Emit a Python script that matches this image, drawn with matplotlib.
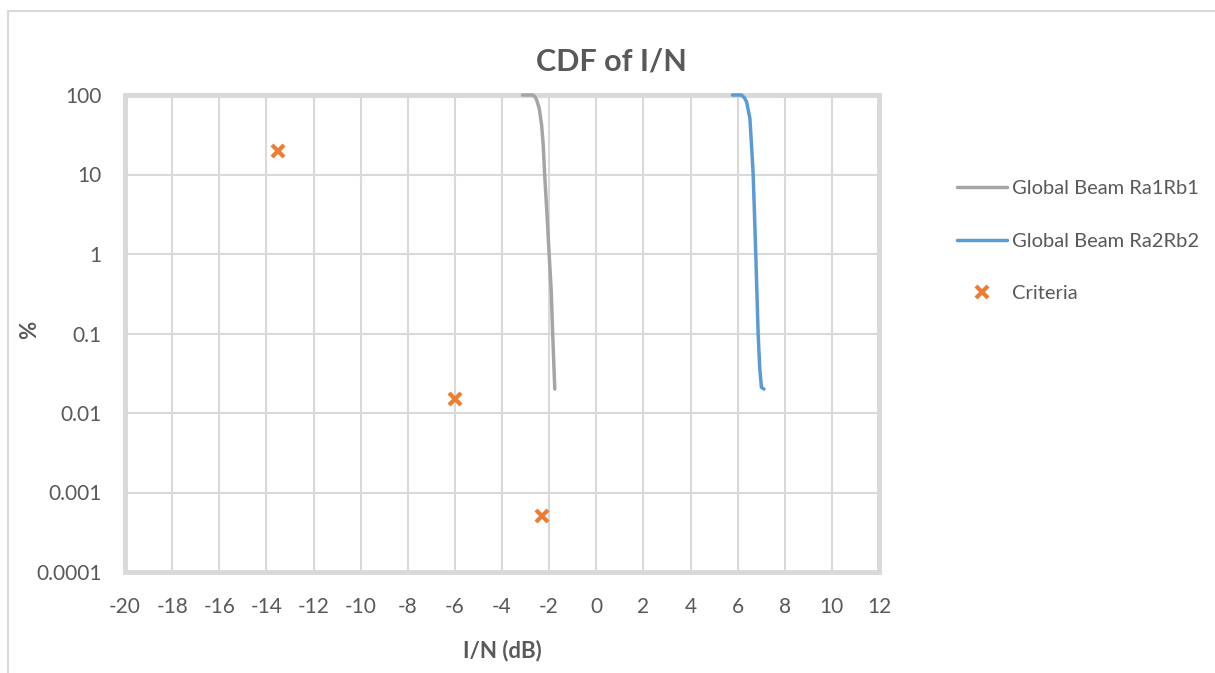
import numpy as np
import matplotlib.pyplot as plt
from matplotlib.patches import Rectangle

plt.rcParams.update({
    'font.family': ['Lato', 'DejaVu Sans'],
    'font.size': 13,
})

# CDF of I/N (dB) vs percentage
ra1rb1_x = [-3.13, -2.70, -2.60, -2.53, -2.42, -2.32, -2.25, -2.19, -2.08, -2.00, -1.91, -1.85, -1.76]
ra1rb1_y = [100, 100, 95, 86.5, 68, 42, 23.5, 10, 2.8, 1, 0.34, 0.1, 0.02]

ra2rb2_x = [5.78, 6.16, 6.28, 6.38, 6.52, 6.59, 6.66, 6.77, 6.87, 6.94, 7.01, 7.12]
ra2rb2_y = [100, 100, 93, 82, 51, 23.5, 10, 1, 0.1, 0.036, 0.021, 0.02]

crit_x = [-13.5, -6, -2.3]
crit_y = [20, 0.015, 0.0005]

xticks = np.arange(-20, 13, 2)
yticks = [0.0001, 0.001, 0.01, 0.1, 1, 10, 100]
ytick_labels = ['0.0001', '0.001', '0.01', '0.1', '1', '10', '100']

grey = '#a5a5a5'
blue = '#5b9bd5'
orange = '#ed7d31'
text_c = '#595959'
grid_c = '#d9d9d9'

fig = plt.figure(figsize=(12.15, 6.73), dpi=100)
ax = fig.add_axes([125/1215, 1 - 572/673, (879-125)/1215, (572-95)/673])

# chart area border (cut off at right and bottom)
fig.patches.append(Rectangle((8/1215, -0.1), 1.2, 1 - 11/673 + 0.1,
                             transform=fig.transFigure, fill=False,
                             edgecolor=grid_c, linewidth=1.5))

l1, = ax.plot(ra1rb1_x, ra1rb1_y, color=grey, lw=2.5, clip_on=False, zorder=3,
              solid_capstyle='round', solid_joinstyle='round', label='Global Beam Ra1Rb1')
l2, = ax.plot(ra2rb2_x, ra2rb2_y, color=blue, lw=2.5, clip_on=False, zorder=3,
              solid_capstyle='round', solid_joinstyle='round', label='Global Beam Ra2Rb2')
sc, = ax.plot(crit_x, crit_y, ls='none', marker='x', ms=9, mew=3,
              color=orange, zorder=4, label='Criteria')

ax.set_yscale('log')
ax.set_xlim(-20, 12)
ax.set_ylim(0.0001, 100)
ax.set_xticks(xticks)
ax.set_xticklabels([str(t) for t in xticks])
ax.set_yticks(yticks)
ax.set_yticklabels(ytick_labels)
ax.minorticks_off()
ax.tick_params(length=0, colors=text_c, labelsize=15)
ax.tick_params(axis='x', pad=18)
ax.tick_params(axis='y', pad=17)
ax.grid(True, color=grid_c, lw=1.5)
ax.set_axisbelow(True)
for s in ax.spines.values():
    s.set_color(grid_c)
    s.set_linewidth(3.5)

ax.set_xlabel('I/N (dB)', fontsize=16, fontweight='bold', color=text_c, labelpad=16)
fig.text(30/1215, 1 - 330/673, '%', rotation=90, fontsize=16, fontweight='bold',
         color=text_c, ha='center', va='center')
fig.text(0.503, 1 - 62/673, 'CDF of I/N', fontsize=22, fontweight='bold',
         color=text_c, ha='center', va='center')

fig.legend(handles=[l1, l2, sc], loc='center left',
           bbox_to_anchor=(957/1215, 1 - 241/673), frameon=False,
           fontsize=14.5, handlelength=2.5, handletextpad=0.25, labelspacing=1.75,
           borderpad=0, borderaxespad=0, labelcolor=text_c)

fig.savefig('out.png', dpi=100, facecolor='white')
